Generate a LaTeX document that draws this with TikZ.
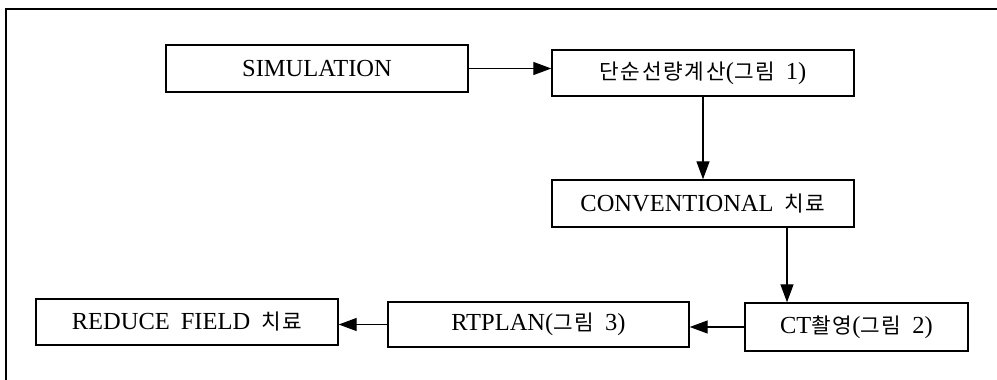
\documentclass[tikz,border=0pt]{standalone}
\usepackage{fontspec}
\setmainfont{Liberation Serif}
\newfontfamily\kr{Noto Sans CJK KR}[Scale=0.87,LetterSpace=8]
\newcommand{\gap}{\hspace{11pt}}
\usetikzlibrary{arrows.meta}
\begin{document}
\begin{tikzpicture}[x=1pt,y=-1pt,
  boxstyle/.style={draw, line width=1.4pt, inner sep=0pt, font=\fontsize{24.5}{28}\selectfont},
  flow/.style={line width=1.3pt, -{Triangle[length=18pt,width=13pt]}}]
\useasboundingbox (0,0) rectangle (997,380);
\draw[line width=1.5pt] (997,9) -- (6,9) -- (6,380);
\node[boxstyle, minimum width=302pt, minimum height=47pt] (sim) at (317,68.5) {SIMULATION};
\node[boxstyle, minimum width=302pt, minimum height=46pt] (dan) at (703,73) {{\kr 단순선량계산}({\kr 그림}\gap 1)};
\node[boxstyle, minimum width=302pt, minimum height=47pt] (conv) at (703,203.5) {CONVENTIONAL\gap{\kr 치료}};
\node[boxstyle, minimum width=223pt, minimum height=48pt] (ct) at (856.5,327) {CT{\kr 촬영}({\kr 그림}\gap 2)};
\node[boxstyle, minimum width=301pt, minimum height=45pt] (rt) at (538.5,324.5) {RTPLAN({\kr 그림}\gap 3)};
\node[boxstyle, minimum width=302pt, minimum height=46pt] (red) at (187,322) {REDUCE\gap FIELD\gap{\kr 치료}};
\draw[flow] (sim.east) -- (sim.east -| dan.west);
\draw[flow] (dan.south) -- (conv.north);
\draw[flow] ([xshift=84pt]conv.south) -- ([xshift=84pt]conv.south |- ct.north);
\draw[flow] (ct.west) -- (ct.west -| rt.east);
\draw[flow] (rt.west) -- (rt.west -| red.east);
\end{tikzpicture}
\end{document}
